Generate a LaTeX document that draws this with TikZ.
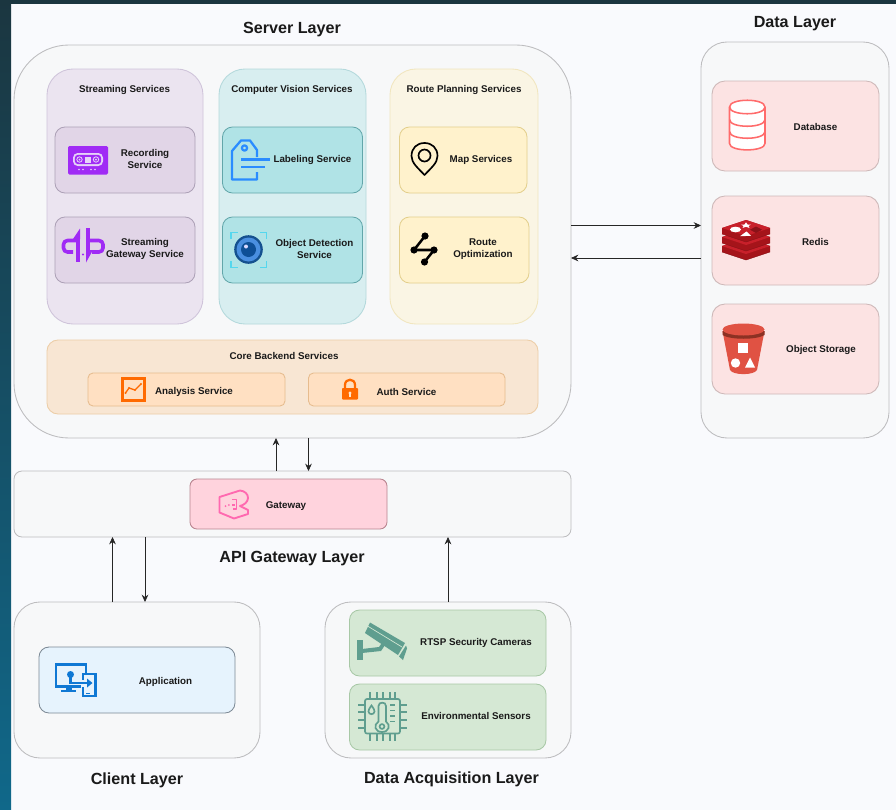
\documentclass[tikz,border=0pt]{standalone}
\usepackage{fontspec}
\setmainfont{Liberation Sans}
\usetikzlibrary{arrows.meta,calc}
\definecolor{pagebg}{HTML}{F9FAFD}
\definecolor{layerfill}{HTML}{F7F8F9}
\definecolor{layerline}{HTML}{BDBDBF}
\definecolor{stripA}{HTML}{1B3640}
\definecolor{stripB}{HTML}{10688A}
\definecolor{purpleA}{HTML}{EBE4F0}\definecolor{purpleAl}{HTML}{CFC4DA}
\definecolor{purpleB}{HTML}{E1D5E7}\definecolor{purpleBl}{HTML}{ACA0B6}
\definecolor{tealA}{HTML}{D8EEF0}\definecolor{tealAl}{HTML}{B4D9DC}
\definecolor{tealB}{HTML}{B0E3E6}\definecolor{tealBl}{HTML}{62A6AA}
\definecolor{yelA}{HTML}{FAF5E4}\definecolor{yelAl}{HTML}{F1E6BF}
\definecolor{yelB}{HTML}{FFF2CC}\definecolor{yelBl}{HTML}{E3CF8C}
\definecolor{orgA}{HTML}{F8E6D3}\definecolor{orgAl}{HTML}{ECCDA6}
\definecolor{orgB}{HTML}{FFE0C2}\definecolor{orgBl}{HTML}{E6BC8E}
\definecolor{redB}{HTML}{FCE3E3}\definecolor{redBl}{HTML}{CDB8B8}
\definecolor{pinkB}{HTML}{FFD3DD}\definecolor{pinkBl}{HTML}{B8848F}
\definecolor{blueB}{HTML}{E6F3FD}\definecolor{blueBl}{HTML}{7C8995}
\definecolor{grnB}{HTML}{D5E8D4}\definecolor{grnBl}{HTML}{A8C8A6}
\definecolor{icoPurple}{HTML}{A02BF5}
\definecolor{icoLight}{HTML}{E6D2F8}
\definecolor{icoBlue}{HTML}{2A8CFF}
\definecolor{icoOrange}{HTML}{FF6A00}
\definecolor{icoPink}{HTML}{FF69B0}
\definecolor{icoApp}{HTML}{0F78D4}
\definecolor{icoTeal}{HTML}{5F9E8F}
\definecolor{icoDb}{HTML}{FF6B6B}
\definecolor{icoBucket}{HTML}{E05243}
\definecolor{icoBucketD}{HTML}{8C3123}
\definecolor{txt}{HTML}{1A1A1A}
\definecolor{brk}{HTML}{55D7EE}
\definecolor{eyeA}{HTML}{15518F}
\definecolor{eyeB}{HTML}{4A8FE0}
\definecolor{eyeC}{HTML}{0E4F96}
\definecolor{rdA}{HTML}{A5141A}\definecolor{rdB}{HTML}{C8202A}\definecolor{rdC}{HTML}{8A1218}
\tikzset{
  bx/.style={draw, line width=0.65pt, inner sep=0pt, outer sep=0pt},
  layerbox/.style={bx, fill=layerfill, draw=layerline},
  lbl/.style={font=\fontsize{7.35}{8.6}\selectfont\bfseries, text=txt, align=center, inner sep=0pt},
  ttl/.style={font=\fontsize{12.1}{15}\selectfont\bfseries, text=txt, inner sep=0pt},
  arr/.style={draw=black!85, line width=0.55pt, -{Stealth[length=5.5pt,width=5pt]}},
}
\newcommand{\bxnode}[7]{%
  \pgfmathsetmacro{\bxw}{(#4-#2)*0.75}%
  \pgfmathsetmacro{\bxh}{(#5-#3)*0.75}%
  \node[#7, rounded corners=#6*0.75pt, minimum width=\bxw pt, minimum height=\bxh pt] (#1) at ({(#2+#4)/2},{(#3+#5)/2}) {};}
\begin{document}
\begin{tikzpicture}[x=0.75pt,y=-0.75pt]
\useasboundingbox (0,0) rectangle (896,810);
% page
\fill[pagebg] (0,0) rectangle (896,810);
\shade[top color=stripA,bottom color=stripB] (0,0) rectangle (11,810);
\fill[stripA] (0,0) rectangle (896,4);

% layers
\bxnode{server}{14}{45}{571}{438}{55}{layerbox}
\bxnode{datal}{701}{42}{889}{438}{26}{layerbox}
\bxnode{gwl}{14}{471}{571}{537}{8}{layerbox}
\bxnode{client}{14}{602}{260}{758}{26}{layerbox}
\bxnode{acq}{325}{602}{571}{758}{26}{layerbox}

% groups
\bxnode{gstream}{47}{69}{203}{324}{26}{bx,fill=purpleA,draw=purpleAl}
\bxnode{gcv}{219}{69}{366}{324}{26}{bx,fill=tealA,draw=tealAl}
\bxnode{groute}{390}{69}{538}{324}{26}{bx,fill=yelA,draw=yelAl}
\bxnode{gcore}{47}{340}{538}{414}{11}{bx,fill=orgA,draw=orgAl}

% service boxes
\bxnode{rec}{55}{127}{195}{193}{10}{bx,fill=purpleB,draw=purpleBl}
\bxnode{sgw}{55}{217}{195}{283}{10}{bx,fill=purpleB,draw=purpleBl}
\bxnode{lab}{222.5}{127}{362.5}{193}{10}{bx,fill=tealB,draw=tealBl}
\bxnode{obj}{222.5}{217}{362.5}{283}{10}{bx,fill=tealB,draw=tealBl}
\bxnode{map}{399.5}{127}{527}{193}{10}{bx,fill=yelB,draw=yelBl}
\bxnode{ropt}{399.5}{217}{529}{283}{10}{bx,fill=yelB,draw=yelBl}
\bxnode{ana}{88}{373}{285}{406}{5}{bx,fill=orgB,draw=orgBl}
\bxnode{auth}{308.5}{373}{505}{406}{5}{bx,fill=orgB,draw=orgBl}
\bxnode{db}{712}{81}{879}{171}{13}{bx,fill=redB,draw=redBl}
\bxnode{redis}{712}{196}{879}{285}{13}{bx,fill=redB,draw=redBl}
\bxnode{ostore}{712}{304}{879}{394}{13}{bx,fill=redB,draw=redBl}
\bxnode{gw}{190}{479}{387}{529}{7}{bx,fill=pinkB,draw=pinkBl}
\bxnode{app}{39}{647}{235}{713}{10}{bx,fill=blueB,draw=blueBl}
\bxnode{rtsp}{349.5}{610}{546}{676}{10}{bx,fill=grnB,draw=grnBl}
\bxnode{env}{349.5}{684}{546}{750}{10}{bx,fill=grnB,draw=grnBl}

% titles
\node[ttl] (tserver) at (292,30) {Server Layer};
\node[ttl] (tdata) at (795,24) {Data Layer};
\node[ttl] (tapi) at (292,558.2) {API Gateway Layer};
\node[ttl] (tclient) at (137,780) {Client Layer};
\node[ttl] (tacq) at (451.5,779) {Data Acquisition Layer};

% labels
\node[lbl] (t1) at (124.5,90) {Streaming Services};
\node[lbl] (t2) at (292,90) {Computer Vision Services};
\node[lbl] (t3) at (464,90) {Route Planning Services};
\node[lbl] (t4) at (284,356) {Core Backend Services};
\node[lbl] (l1) at (145,159) {Recording\\Service};
\node[lbl] (l2) at (145,249) {Streaming\\Gateway Service};
\node[lbl] (l3) at (312.5,160) {Labeling Service};
\node[lbl] (l4) at (314.5,249) {Object Detection\\Service};
\node[lbl] (l5) at (481,160) {Map Services};
\node[lbl] (l6) at (483,249) {Route\\Optimization};
\node[lbl] (l7) at (194,391.5) {Analysis Service};
\node[lbl] (l8) at (406.5,391.5) {Auth Service};
\node[lbl] (l9) at (815.5,126.5) {Database};
\node[lbl] (l10) at (815.5,241.5) {Redis};
\node[lbl] (l11) at (821,350) {Object Storage};
\node[lbl] (l12) at (286,506.5) {Gateway};
\node[lbl] (l13) at (165.5,682) {Application};
\node[lbl] (l14) at (476,642.5) {RTSP Security Cameras};
\node[lbl] (l15) at (476,716) {Environmental Sensors};

% connectors
\coordinate (xa) at (276,0);
\coordinate (xb) at (308.5,0);
\coordinate (xc) at (112.5,0);
\coordinate (xd) at (145,0);
\coordinate (xe) at (448,0);
\coordinate (ya) at (0,225.5);
\coordinate (yb) at (0,258);
\draw[arr] (gwl.north -| xa) -- (server.south -| xa);
\draw[arr] (server.south -| xb) -- (gwl.north -| xb);
\draw[arr] (client.north -| xc) -- (gwl.south -| xc);
\draw[arr] (gwl.south -| xd) -- (client.north -| xd);
\draw[arr] (acq.north -| xe) -- (gwl.south -| xe);
\draw[arr] (server.east |- ya) -- (datal.west |- ya);
\draw[arr] (datal.west |- yb) -- (server.east |- yb);

% --- icons ---
% cassette
\fill[icoPurple,rounded corners=1pt] (68,146) rectangle (108,174.5);
\fill[icoLight,rounded corners=3.5pt] (73,153) rectangle (103,166);
\fill[icoPurple,rounded corners=2.5pt] (74.8,154.8) rectangle (101.2,164.2);
\foreach \cx in {79.5,96}{\draw[icoLight,line width=0.6pt] (\cx,159.5) circle (2.7); \fill[icoLight] (\cx,159.5) circle (1);}
\fill[icoLight] (85,156.5) rectangle (91,162.5);
\foreach \cx in {79,83,91,95}{\fill[icoLight] (\cx,169.5) circle (0.8);}
% streaming gateway
\begin{scope}[icoPurple,line width=2.7pt,line join=round]
\draw[rounded corners=3pt] (76,240.5) -- (63.5,240.5) -- (63.5,252) -- (73,252);
\draw[rounded corners=3pt] (88,240.5) -- (103,240.5) -- (103,252) -- (92,252);
\draw[line width=2.6pt] (78,236) -- (78,262);
\draw[line width=2.6pt] (88,228) -- (88,252);
\end{scope}
\fill[icoPurple] (80,228.5) -- (73,239) -- (80,239) -- cycle;
\fill[icoPurple] (86,262.5) -- (86,250) -- (93,250) -- cycle;
\fill[icoPurple] (83,254.5) circle (1.2);
% tag
\begin{scope}[icoBlue,line width=1.7pt,line join=round]
\draw (257,172) -- (257,179.5) -- (232,179.5) -- (232,151) -- (241,140.5) -- (250,140.5) -- (257,150) -- (257,157);
\draw (241,159.5) -- (270,159.5);
\draw (241,167) -- (265,167);
\draw (244.5,148) circle (2.6);
\end{scope}
% eye
\begin{scope}[line width=1.2pt,brk]
\draw (231,239) -- (231,232.5) -- (238,232.5);
\draw (260,232.5) -- (266.5,232.5) -- (266.5,239);
\draw (231,261) -- (231,267.5) -- (238,267.5);
\draw (260,267.5) -- (266.5,267.5) -- (266.5,261);
\end{scope}
\fill[eyeA] (248.5,249.5) circle (14.3);
\fill[eyeB] (248.5,249.5) circle (12);
\fill[eyeC] (248.5,249.5) circle (7.5);
\fill[white!85!blue] (246,246.5) circle (2);
% pin
\draw[black,line width=1.25pt,line join=round] (424.5,175) .. controls (418,168) and (411.5,163) .. (411.5,156) .. controls (411.5,148) and (417,143) .. (424.5,143) .. controls (432,143) and (437.5,148) .. (437.5,156) .. controls (437.5,163) and (431,168) .. cycle;
\draw[black,line width=1.25pt] (424.5,155.5) circle (6);
% route optimization
\draw[black,line width=1.9pt] (425,236) -- (414,250) -- (434,250) -- (424.5,262);
\fill[black] (425,236) circle (3.6);
\fill[black] (414,250) circle (3.6);
\fill[black] (434,250) circle (3.6);
\fill[black] (424.5,262) circle (3.6);
% analysis
\draw[icoOrange,line width=2.1pt] (122.5,378.5) rectangle (144.5,400.5);
\draw[icoOrange,line width=1pt,line join=round] (125.5,393) -- (129,388) -- (135,390) -- (141,384);
\foreach \px/\py in {125.5/393,129/388,135/390,141/384}{\fill[icoOrange] (\px,\py) circle (1.2);}
% lock
\draw[icoOrange,line width=1.7pt] (345,389) -- (345,385) .. controls (345,378) and (355,378) .. (355,385) -- (355,389);
\fill[icoOrange,rounded corners=0.6pt] (342,388) rectangle (358,399.5);
\fill[white!80!orange] (350,393) circle (1.6);
\fill[white!80!orange] (349.2,393) rectangle (350.8,397);
% database
\begin{scope}[icoDb,line width=1.15pt]
\draw[fill=white] (729.5,107) -- (729.5,143.5) .. controls (729.5,152) and (765,152) .. (765,143.5) -- (765,107) .. controls (765,98) and (729.5,98) .. cycle;
\draw (729.5,107) .. controls (729.5,116) and (765,116) .. (765,107);
\draw (729.5,119.5) .. controls (729.5,128.5) and (765,128.5) .. (765,119.5);
\draw (729.5,131.5) .. controls (729.5,140.5) and (765,140.5) .. (765,131.5);
\end{scope}
% redis
\foreach \ly in {246,237,228}{
  \fill[rdA] (722,\ly) -- (746,\ly-8) -- (770,\ly) -- (770,\ly+6) -- (746,\ly+14) -- (722,\ly+6) -- cycle;
  \fill[rdB] (722,\ly) -- (746,\ly-8) -- (770,\ly) -- (746,\ly+8) -- cycle;
  \draw[rdC,line width=0.3pt] (722,\ly+6) -- (746,\ly+14) -- (770,\ly+6);
}
\fill[white] (735.5,229.5) ellipse (5.5 and 2.8);
\fill[white] (746,222.3) -- (747.6,224.6) -- (751,224.6) -- (748.5,226) -- (749.5,228) -- (746,226.8) -- (742.5,228) -- (743.5,226) -- (741,224.6) -- (744.4,224.6) -- cycle;
\fill[white] (740,236.2) -- (751,235.8) -- (746.5,231.5) -- cycle;
\fill[rdC] (756,226.5) -- (762,229.7) -- (756,233) -- (750,229.7) -- cycle;
% bucket
\fill[icoBucket] (722.5,331) -- (730,370) .. controls (733,375.5) and (754,375.5) .. (757,370) -- (764.5,331) -- cycle;
\fill[icoBucketD] (722.5,331) -- (722.5,335) .. controls (730,340) and (757,340) .. (764.5,335) -- (764.5,331) -- cycle;
\fill[icoBucket] (743.5,329.5) ellipse (21 and 6);
\fill[white] (738,343) rectangle (748,353);
\fill[white] (735.5,363) circle (4.7);
\fill[white] (750,357.5) -- (755,367.5) -- (745,367.5) -- cycle;
% gateway icon
\begin{scope}[icoPink,line width=1.4pt,line join=round]
\draw (219.5,497) -- (240,490.5) .. controls (245,491) and (248,494) .. (248,498) .. controls (248,502) and (244,505) .. (240,506) -- (248,510) -- (248,514) -- (234,518.5) -- (219.5,512.5) -- cycle;
\draw (232,499.5) -- (236.5,499.5) -- (236.5,509) -- (232.5,509);
\end{scope}
\fill[icoPink] (225.5,506) circle (1) (228.8,505) circle (1);
\fill[icoPink] (232,503.5) rectangle (234.5,506);
% app icon
\begin{scope}[icoApp]
\draw[line width=2.2pt] (86,673) -- (86,664.5) -- (56,664.5) -- (56,686.5) -- (81,686.5);
\fill (66,687) rectangle (72,690);
\fill (61,690) rectangle (76,692.3);
\draw[line width=2.2pt] (83,680) -- (83,674) -- (95.5,674) -- (95.5,696) -- (83,696) -- (83,687);
\fill (70.5,674.5) circle (3.5);
\draw[line width=1.6pt] (70.5,676) -- (70.5,683) -- (88,683);
\fill (92.5,683) -- (87,678.5) -- (87,687.5) -- cycle;
\fill (86,693) rectangle (90,694.2);
\end{scope}
% camera
\begin{scope}[icoTeal]
\fill (370,622.5) -- (405,643) -- (398,655) -- (365,633) -- cycle;
\fill (399,656.5) -- (406,645.5) -- (407,648.5) -- (403,660) -- cycle;
\fill (357,640) rectangle (363,660);
\fill (362,649) -- (379,647) -- (384,640) -- (387,642) -- (381,651) -- (362,653) -- cycle;
\end{scope}
\draw[grnB,line width=0.5pt] (367.5,626) -- (402,647);
% sensor chip
\begin{scope}[icoTeal,line width=1.25pt]
\draw[rounded corners=1.5pt] (365,699) rectangle (400,733.5);
\foreach \px in {370,377,383,390,395}{\draw (\px,692) -- (\px,699); \draw (\px,733.5) -- (\px,741);}
\foreach \py in {705,712,720,728}{\draw (358,\py) -- (365,\py); \draw (400,\py) -- (407,\py);}
\draw (378.5,721.5) -- (378.5,706) .. controls (378.5,701.5) and (386,701.5) .. (386,706) -- (386,721.5) .. controls (391,725) and (389,732) .. (382,732) .. controls (375,732) and (373,725) .. cycle;
\draw (382,726.5) circle (2.4);
\draw (371.5,705.5) .. controls (369,709) and (368.5,710) .. (368.5,711.5) .. controls (368.5,715) and (374.5,715) .. (374.5,711.5) .. controls (374.5,710) and (374,709) .. cycle;
\foreach \py in {705,710.5,716,721.5}{\draw (390,\py) -- (395,\py);}
\end{scope}
\end{tikzpicture}
\end{document}
